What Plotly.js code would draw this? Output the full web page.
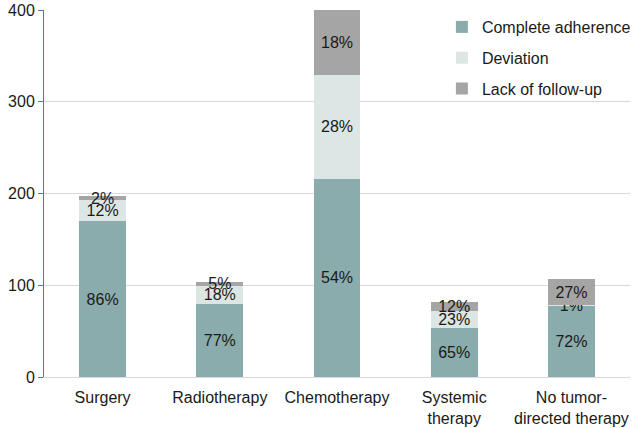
<!DOCTYPE html>
<html>
<head>
<meta charset="utf-8">
<script src="https://cdn.plot.ly/plotly-3.0.1.min.js"></script>
<style>html,body{margin:0;padding:0;background:#fff;}#chart{width:640px;height:428px;}</style>
</head>
<body>
<div id="chart"></div>
<script>
const categories = ["Surgery", "Radiotherapy", "Chemotherapy", "Systemic<br>therapy", "No tumor-<br>directed therapy"];
const completeAdherence = [170, 80, 216, 53, 77];
const deviation = [23, 19, 113, 19, 1];
const lackOfFollowUp = [4, 5, 71, 10, 29];
const completeLabels = ["86%", "77%", "54%", "65%", "72%"];
const deviationLabels = ["12%", "18%", "28%", "23%", "1%"];
const lackLabels = ["2%", "5%", "18%", "12%", "27%"];
const yTicks = [0, 100, 200, 300, 400];

const common = {
  type: 'bar',
  x: categories,
  textposition: 'inside',
  insidetextanchor: 'middle',
  constraintext: 'none',
  textfont: {family: 'Liberation Sans, Arial, sans-serif', size: 16, color: '#1a1a1a'},
  hoverinfo: 'skip',
  cliponaxis: false
};

const data = [
  Object.assign({}, common, {name: 'Complete adherence', y: completeAdherence, text: completeLabels, marker: {color: '#8aacac'}, legendgroup: 'a'}),
  Object.assign({}, common, {name: 'Deviation', y: deviation, text: deviationLabels, marker: {color: '#dce6e4'}, legendgroup: 'b'}),
  Object.assign({}, common, {name: 'Lack of follow-up', y: lackOfFollowUp, text: lackLabels, marker: {color: '#a5a5a5'}, legendgroup: 'c'})
];

const layout = {
  width: 640, height: 428,
  margin: {l: 44, r: 4, t: 10, b: 51},
  barmode: 'stack',
  bargap: 0.6,
  paper_bgcolor: '#fff', plot_bgcolor: '#fff',
  font: {family: 'Liberation Sans, Arial, sans-serif', size: 16, color: '#1a1a1a'},
  xaxis: {
    showline: true, linecolor: '#d9d9d9', linewidth: 1,
    ticks: '', showgrid: false, tickfont: {size: 16},
    ticklabelstandoff: 6
  },
  yaxis: {
    range: [0, 400], tickvals: yTicks, ticktext: yTicks.map(String),
    showline: true, linecolor: '#4f77b5', linewidth: 1,
    ticks: 'outside', ticklen: 5, tickcolor: '#4f77b5',
    showgrid: true, gridcolor: '#d9d9d9', gridwidth: 1,
    zeroline: false, tickfont: {size: 16}
  },
  legend: {
    x: 0.679, y: 1.0, xanchor: 'left', yanchor: 'top',
    traceorder: 'grouped', tracegroupgap: 7,
    bgcolor: 'rgba(255,255,255,0)',
    font: {size: 16}
  },
  showlegend: true
};

Plotly.newPlot('chart', data, layout, {displayModeBar: false, staticPlot: true});
</script>
</body>
</html>
